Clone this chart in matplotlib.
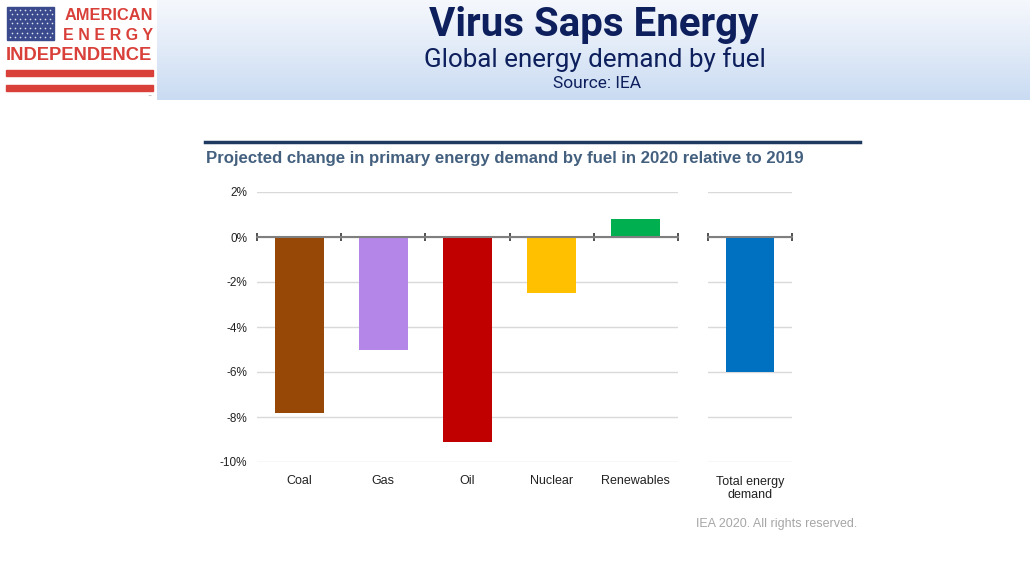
import numpy as np
import matplotlib
matplotlib.use("Agg")
import matplotlib.pyplot as plt
from matplotlib.patches import Rectangle

categories = ["Coal", "Gas", "Oil", "Nuclear", "Renewables"]
values = [-7.8, -5.0, -9.1, -2.5, 0.8]
colors = ["#974706", "#b386e8", "#c00000", "#ffc000", "#00b050"]
total_label = ["Total energy\ndemand"]
total_value = [-6.0]
total_color = ["#0070c0"]
yticks = [2, 0, -2, -4, -6, -8, -10]
ytick_labels = ["2%", "0%", "-2%", "-4%", "-6%", "-8%", "-10%"]

W, H = 1030, 579
fig = plt.figure(figsize=(W / 100, H / 100), dpi=100)
fig.patch.set_facecolor("white")

def fx(px):
    return px / W

def fy(py):
    return 1 - py / H

# header gradient
hdr = fig.add_axes([0, fy(100), 1, 100 / H])
grad = np.linspace(0, 1, 100).reshape(-1, 1)
top = np.array([0.96, 0.97, 0.99])
bot = np.array([0.79, 0.86, 0.95])
img = top + (bot - top) * grad[:, :, None] ** 1.1
img = np.repeat(img, 2, axis=1)
hdr.imshow(img, aspect="auto", extent=[0, 1, 0, 1], origin="upper")
hdr.axis("off")

# logo box
lg = fig.add_axes([0, fy(100), fx(157), 100 / H])
lg.set_xlim(0, 157)
lg.set_ylim(100, 0)
lg.axis("off")
lg.add_patch(Rectangle((0, 0), 157, 100, color="white"))
lg.add_patch(Rectangle((7, 7), 47, 33, color="#3a4a8c"))
for r in range(7):
    for c in range(9):
        lg.plot(9.5 + c * 5.0 + (2.5 if r % 2 else 0), 9.5 + r * 4.6, "o", ms=1.2,
                color="#dfe3f0", mec="none")
red = "#d9403a"
lg.text(153, 15, "AMERICAN", ha="right", va="center", color=red,
        fontsize=11.8, fontweight="bold", family="Liberation Sans")
lg.text(153, 35, "E N E R G Y", ha="right", va="center", color=red,
        fontsize=11.5, fontweight="bold", family="Liberation Sans")
lg.text(79, 56, "INDEPENDENCE", ha="center", va="center", color=red,
        fontsize=13.2, fontweight="bold", family="Liberation Sans")
lg.add_patch(Rectangle((6, 70), 147, 6, color=red))
lg.add_patch(Rectangle((6, 85), 147, 6, color=red))
lg.text(149, 97, "™", ha="center", va="center", color="#777777", fontsize=3)

# header texts
navy = "#0d1f5c"
fig.text(fx(594), fy(25), "Virus Saps Energy", ha="center", va="center",
         fontsize=29, fontweight="bold", color=navy, family="Roboto")
fig.text(fx(595), fy(60), "Global energy demand by fuel", ha="center", va="center",
         fontsize=18.7, color=navy, family="Roboto")
fig.text(fx(597), fy(84), "Source: IEA", ha="center", va="center",
         fontsize=12.5, color=navy, family="Roboto")

# chart title line and title
fig.add_artist(plt.Line2D([fx(205), fx(860)], [fy(142), fy(142)], color="#1f3a60", lw=2.5))
fig.text(fx(206), fy(159), "Projected change in primary energy demand by fuel in 2020 relative to 2019",
         ha="left", va="center", fontsize=12.1, fontweight="bold", color="#44607f",
         family="Liberation Sans")
fig.text(fx(857), fy(524), "IEA 2020. All rights reserved.", ha="right", va="center",
         fontsize=9, color="#a6a6a6", family="Liberation Sans")

grid_c = "#d9d9d9"
zero_c = "#7f7f7f"
lab_c = "#222222"

def style(ax, n, show_y):
    ax.set_ylim(-10, 2)
    ax.set_xlim(-0.5, n - 0.5)
    ax.set_yticks(yticks)
    if show_y:
        ax.set_yticklabels(ytick_labels, fontsize=8.5, color=lab_c, family="Liberation Sans")
    else:
        ax.set_yticklabels([])
    ax.tick_params(axis="y", length=0, pad=7)
    ax.grid(axis="y", color=grid_c, lw=1)
    ax.set_axisbelow(True)
    for s in ["top", "right", "left"]:
        ax.spines[s].set_visible(False)
    ax.spines["bottom"].set_position(("data", 0))
    ax.spines["bottom"].set_color(zero_c)
    ax.spines["bottom"].set_linewidth(1.5)
    ax.spines["bottom"].set_zorder(3)
    ax.set_xticks(np.arange(n + 1) - 0.5)
    ax.set_xticklabels([])
    ax.tick_params(axis="x", direction="inout", length=6, width=1.2, color="#333333")
    ax.patch.set_alpha(0)

y0 = fy(462)
h = 270 / H
ax1 = fig.add_axes([fx(257), y0, fx(678 - 257), h])
x1 = np.arange(len(categories))
ax1.bar(x1, values, width=0.58, color=colors, zorder=2)
style(ax1, len(categories), True)
for xi, lab in zip(x1, categories):
    ax1.text(xi, -0.05, lab, transform=ax1.get_xaxis_transform(), ha="center", va="top",
             fontsize=9, color=lab_c, family="Liberation Sans")

ax2 = fig.add_axes([fx(708), y0, fx(792 - 708), h])
x2 = np.arange(len(total_label))
ax2.bar(x2, total_value, width=0.57, color=total_color, zorder=2)
style(ax2, len(total_label), False)
for xi, lab in zip(x2, total_label):
    ax2.text(xi, -0.05, lab, transform=ax2.get_xaxis_transform(), ha="center", va="top",
             fontsize=9, color=lab_c, family="Liberation Sans", linespacing=1.2)

fig.savefig("out.png", dpi=100)
